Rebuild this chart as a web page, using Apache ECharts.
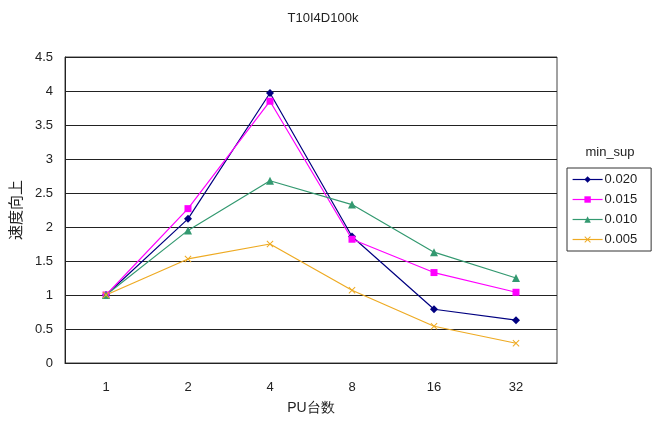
<!DOCTYPE html>
<html>
<head>
<meta charset="utf-8">
<script src="https://cdn.jsdelivr.net/npm/echarts@6/dist/echarts.min.js"></script>
<style>
  html, body { margin: 0; padding: 0; background: #fff; }
  #chart { width: 652px; height: 423px; }
</style>
</head>
<body>
<div id="chart"></div>
<script>
// PU counts along the x axis
const puCounts = ['1', '2', '4', '8', '16', '32'];
// Speed-up per min_sup threshold
const sup020 = [1.00, 2.12, 3.97, 1.86, 0.79, 0.63];
const sup015 = [1.00, 2.27, 3.85, 1.82, 1.33, 1.04];
const sup010 = [1.00, 1.95, 2.68, 2.33, 1.63, 1.25];
const sup005 = [1.00, 1.53, 1.75, 1.07, 0.54, 0.29];
const seriesNames = ['0.020', '0.015', '0.010', '0.005'];

const FONT = '"Liberation Sans", Arial, sans-serif';
const crossSymbol = 'path://M0,1L1,0L5,4L9,0L10,1L6,5L10,9L9,10L5,6L1,10L0,9L4,5Z';

function makeSeries(name, data, color, symbol, size) {
  return {
    name: name,
    type: 'line',
    data: data,
    symbol: symbol,
    symbolSize: size,
    showAllSymbol: true,
    lineStyle: { color: color, width: 1.2 },
    itemStyle: { color: color },
    emphasis: { disabled: true },
    animation: false
  };
}

const chart = echarts.init(document.getElementById('chart'), null, { renderer: 'canvas' });
chart.setOption({
  backgroundColor: '#fff',
  textStyle: { fontFamily: FONT },
  title: [
    {
      text: 'T10I4D100k',
      left: 318, top: 7, textAlign: 'center',
      textStyle: { fontSize: 13, fontWeight: 'normal', color: '#222', fontFamily: FONT }
    },
    {
      text: 'min_sup',
      left: 605, top: 141, textAlign: 'center',
      textStyle: { fontSize: 13, fontWeight: 'normal', color: '#222', fontFamily: FONT }
    }
  ],
  legend: {
    data: seriesNames,
    orient: 'vertical',
    left: 567, top: 168,
    padding: [5, 14, 5, 5],
    itemGap: 7,
    itemWidth: 30, itemHeight: 8,
    borderColor: '#333', borderWidth: 1,
    itemStyle: { borderWidth: 0 },
    lineStyle: { width: 1.2 },
    textStyle: { fontSize: 13, color: '#222', fontFamily: FONT, padding: [0, 0, 0, -3] },
    selectedMode: false
  },
  grid: {
    left: 65, right: 95, top: 57, bottom: 60,
    show: true, borderColor: '#444', borderWidth: 1,
    containLabel: false
  },
  xAxis: {
    type: 'category',
    data: puCounts,
    boundaryGap: true,
    name: 'PU台数',
    nameLocation: 'middle',
    nameGap: 38,
    nameTextStyle: { fontSize: 14, color: '#222', fontFamily: FONT },
    axisLine: { lineStyle: { color: '#222' } },
    axisTick: { inside: true, length: 5, lineStyle: { color: '#222' } },
    axisLabel: { fontSize: 13, color: '#222', margin: 18, fontFamily: FONT },
    splitLine: { show: false }
  },
  yAxis: {
    type: 'value',
    min: 0, max: 4.5, interval: 0.5,
    name: '速度向上',
    nameLocation: 'middle',
    nameGap: 42,
    nameRotate: 90,
    nameTextStyle: { fontSize: 15, color: '#222', fontFamily: '"Noto Sans CJK JP", sans-serif' },
    axisLine: { show: true, lineStyle: { color: '#222' } },
    axisTick: { show: false },
    axisLabel: { fontSize: 13, color: '#222', margin: 12, fontFamily: FONT },
    splitLine: { show: true, lineStyle: { color: '#222', width: 1 } }
  },
  series: [
    makeSeries(seriesNames[0], sup020, '#000080', 'diamond', 8),
    makeSeries(seriesNames[1], sup015, '#FF00FF', 'rect', 7),
    makeSeries(seriesNames[2], sup010, '#339970', 'triangle', 8),
    makeSeries(seriesNames[3], sup005, '#EEAA22', crossSymbol, 7)
  ]
});
</script>
</body>
</html>
